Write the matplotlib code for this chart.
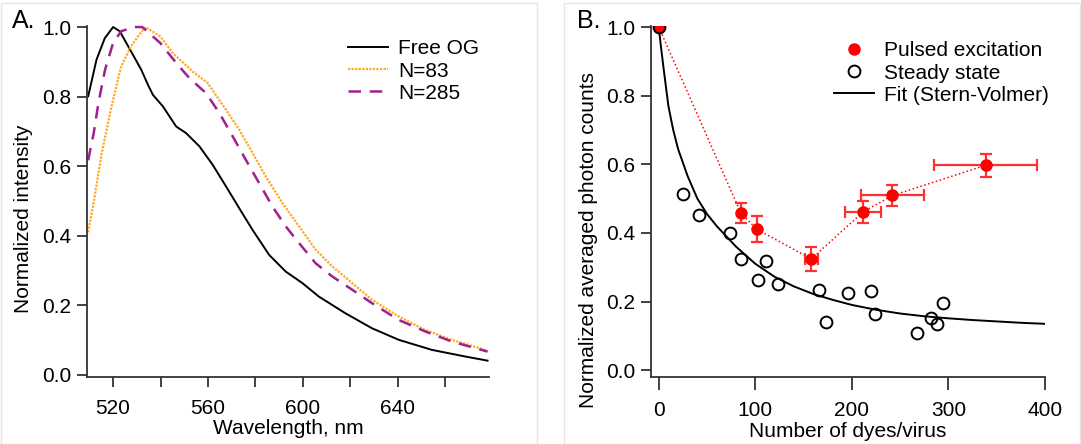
import numpy as np
import matplotlib
matplotlib.use('Agg')
import matplotlib.pyplot as plt
from matplotlib.patches import Rectangle
from matplotlib.ticker import MultipleLocator

plt.rcParams['font.family'] = ['Liberation Sans', 'DejaVu Sans']

# Panel A: normalized emission spectra
free_og_nm = [509.5, 513.0, 516.5, 520.0, 522.8, 525.6, 528.4, 531.9, 534.7, 536.8,
              541.0, 546.6, 550.8, 556.4, 562.0, 567.6, 573.2, 578.8, 585.8, 592.8,
              599.8, 606.8, 618.0, 629.2, 640.4, 654.4, 668.4, 677.9]
free_og = [0.801, 0.906, 0.968, 1.0, 0.988, 0.954, 0.920, 0.877, 0.834, 0.805,
           0.772, 0.714, 0.695, 0.657, 0.604, 0.542, 0.479, 0.417, 0.345, 0.297,
           0.264, 0.225, 0.177, 0.134, 0.101, 0.072, 0.053, 0.041]

n83_nm = [509.5, 512.2, 515.2, 519.3, 523.4, 527.5, 531.0, 533.7, 539.9, 545.2,
          553.6, 559.9, 567.6, 573.2, 578.8, 584.4, 591.4, 598.4, 605.4, 612.4,
          620.8, 629.2, 640.4, 651.6, 662.8, 677.9]
n83 = [0.41, 0.512, 0.637, 0.771, 0.887, 0.944, 0.978, 1.0, 0.973, 0.925,
       0.872, 0.839, 0.762, 0.705, 0.638, 0.570, 0.494, 0.427, 0.360, 0.312,
       0.264, 0.216, 0.168, 0.129, 0.101, 0.070]

n285_nm = [509.5, 511.8, 513.8, 516.6, 520.0, 523.4, 528.9, 532.3, 539.9, 546.7,
           552.2, 559.2, 564.8, 570.4, 576.0, 581.6, 587.2, 592.8, 598.4, 605.4,
           612.4, 620.8, 629.2, 640.4, 651.6, 662.8, 677.9]
n285 = [0.617, 0.694, 0.781, 0.877, 0.954, 0.988, 1.0, 1.0, 0.954, 0.896,
        0.853, 0.810, 0.753, 0.686, 0.618, 0.551, 0.484, 0.427, 0.379, 0.321,
        0.283, 0.245, 0.206, 0.158, 0.125, 0.096, 0.067]

# Panel B: photon counts vs number of dyes per virus
pulsed_x = [0, 85.2, 101.5, 158, 211.6, 242, 338.6]
pulsed_y = [1.0, 0.457, 0.411, 0.324, 0.461, 0.509, 0.597]
pulsed_yerr = [0, 0.029, 0.038, 0.034, 0.032, 0.032, 0.034]
pulsed_xerr = [0, 0, 0, 7, 18.5, 32.6, 53.3]

steady_x = [0, 25.5, 41.8, 73.5, 85.2, 103.2, 111.5, 123.6, 166, 173.6, 196,
            219.5, 224, 267.8, 282, 287.8, 294]
steady_y = [1.0, 0.514, 0.453, 0.399, 0.324, 0.263, 0.319, 0.252, 0.234, 0.141,
            0.224, 0.231, 0.165, 0.108, 0.152, 0.134, 0.196]

fit_x = [0, 2, 5, 10, 15, 20, 25, 30, 40, 50, 60, 70, 80, 90, 100, 120, 140,
         160, 180, 200, 225, 250, 275, 300, 325, 350, 375, 400]
fit_y = [1.0, 0.95, 0.88, 0.77, 0.70, 0.645, 0.605, 0.565, 0.50, 0.455, 0.42,
         0.39, 0.36, 0.335, 0.31, 0.272, 0.244, 0.222, 0.205, 0.19, 0.176,
         0.165, 0.157, 0.151, 0.146, 0.142, 0.138, 0.135]

W, H = 1081, 444
fig = plt.figure(figsize=(W / 100, H / 100), dpi=100)

# faint panel frames
for x0, x1 in [(1, 537), (564, 1080)]:
    fig.patches.append(Rectangle((x0 / W, 0), (x1 - x0) / W, 1 - 3 / H,
                                 transform=fig.transFigure, fill=False,
                                 edgecolor='#e6e6e6', lw=1))


def px_axes(left, right, top, bottom):
    return fig.add_axes([left / W, 1 - bottom / H, (right - left) / W, (bottom - top) / H])


def style_axes(ax):
    for s in ['top', 'right']:
        ax.spines[s].set_visible(False)
    for s in ['left', 'bottom']:
        ax.spines[s].set_linewidth(1.3)
        ax.spines[s].set_color('#333333')
    ax.tick_params(which='both', direction='out', length=7.5, width=1.3,
                   color='#333333', labelsize=15)
    ax.tick_params(axis='x', pad=8)
    ax.tick_params(axis='y', pad=4)


# ---- Panel A ----
axA = px_axes(87, 489, 26, 377)
axA.plot(free_og_nm, free_og, color='black', lw=1.4, label='Free OG', clip_on=False)
axA.plot(n83_nm, n83, color='#FFA820', lw=1.6, ls=(0, (1, 0.6)), label='N=83', clip_on=False)
axA.plot(n285_nm, n285, color='#A0208E', lw=1.8, ls=(0, (5, 3.5)), label='N=285', clip_on=False)
axA.set_xlim(509, 678.5)
axA.set_ylim(-0.006, 1.003)
axA.xaxis.set_minor_locator(MultipleLocator(20))
axA.yaxis.set_major_locator(MultipleLocator(0.2))
axA.set_xticks([520, 560, 600, 640])
style_axes(axA)
axA.set_xlabel('Wavelength, nm', fontsize=15, labelpad=1)
axA.set_ylabel('Normalized intensity', fontsize=15)
axA.yaxis.set_label_coords(-0.134, 0.45)
axA.legend(loc='upper left', bbox_to_anchor=(338 / W, 1 - 29 / H),
           bbox_transform=fig.transFigure, frameon=False, fontsize=15,
           handlelength=1.9, handletextpad=0.5, labelspacing=0.15, borderpad=0)
fig.text(12 / W, 1 - 21 / H, 'A.', fontsize=18, va='center', ha='left')

# ---- Panel B ----
axB = px_axes(651, 1045, 26, 377)
fit_line, = axB.plot(fit_x, fit_y, color='black', lw=1.4, label='Fit (Stern-Volmer)', zorder=2)
axB.plot(pulsed_x, pulsed_y, color='red', lw=1.1, ls=':', zorder=3)
axB.errorbar(pulsed_x, pulsed_y, yerr=pulsed_yerr, xerr=pulsed_xerr, fmt='none',
             ecolor='#ff3030', elinewidth=1.6, capsize=4, capthick=1.6, zorder=3)
pulsed_handle, = axB.plot(pulsed_x, pulsed_y, 'o', color='red', ms=8, mec='red',
                          ls='none', label='Pulsed excitation', zorder=4)
steady_handle, = axB.plot(steady_x, steady_y, 'o', mfc='none', mec='black', mew=1.4,
                          ms=8.5, ls='none', label='Steady state', zorder=5)
axB.set_xlim(-8, 400)
axB.set_ylim(-0.02, 1.003)
axB.xaxis.set_major_locator(MultipleLocator(100))
axB.yaxis.set_major_locator(MultipleLocator(0.2))
style_axes(axB)
axB.tick_params(axis='x', length=9.5)
axB.set_xlabel('Number of dyes/virus', fontsize=15, labelpad=1)
axB.set_ylabel('Normalized averaged photon counts', fontsize=15)
axB.yaxis.set_label_coords(-0.135, 0.39)
axB.legend(handles=[pulsed_handle, steady_handle, fit_line], loc='upper left',
           bbox_to_anchor=(824 / W, 1 - 31 / H),
           bbox_transform=fig.transFigure, frameon=False, fontsize=15,
           handlelength=1.9, handletextpad=0.5, labelspacing=0.15, borderpad=0)
fig.text(577 / W, 1 - 21 / H, 'B.', fontsize=18, va='center', ha='left')

fig.savefig('out.png', dpi=100)
